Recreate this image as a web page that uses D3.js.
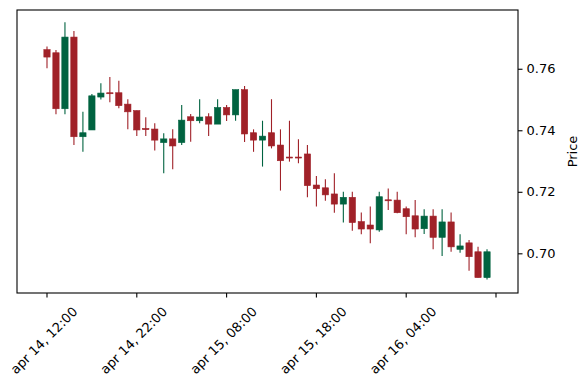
<!DOCTYPE html>
<html>
<head>
<meta charset="utf-8">
<script src="https://cdn.jsdelivr.net/npm/d3@7"></script>
<style>
  body { margin: 0; background: #fff; }
  text { font-family: "DejaVu Sans", sans-serif; fill: #000; }
</style>
</head>
<body>
<div id="chart"></div>
<script>
// hourly candles, apr 14 12:00 -> apr 16 13:00
let opens  = [0.7662,0.7652,0.7470,0.7703,0.7379,0.7401,0.7508,0.7522,0.7522,0.7485,
              0.7464,0.7406,0.7404,0.7360,0.7372,0.7360,0.7444,0.7431,0.7444,0.7420,
              0.7474,0.7450,0.7532,0.7392,0.7368,0.7392,0.7352,0.7313,0.7313,0.7323,
              0.7222,0.7213,0.7193,0.7160,0.7182,0.7103,0.7092,0.7076,0.7174,0.7173,
              0.7145,0.7122,0.7080,0.7121,0.7052,0.7102,0.7013,0.7034,0.7005,0.6921];
let highs  = [0.7672,0.7661,0.7751,0.7723,0.7460,0.7518,0.7553,0.7573,0.7561,0.7501,
              0.7464,0.7442,0.7423,0.7390,0.7403,0.7482,0.7453,0.7501,0.7455,0.7501,
              0.7482,0.7532,0.7544,0.7403,0.7431,0.7501,0.7403,0.7431,0.7371,0.7352,
              0.7251,0.7241,0.7260,0.7200,0.7200,0.7133,0.7152,0.7200,0.7211,0.7200,
              0.7152,0.7173,0.7143,0.7143,0.7143,0.7133,0.7062,0.7043,0.7021,0.7013];
let lows   = [0.7602,0.7452,0.7452,0.7352,0.7330,0.7401,0.7500,0.7491,0.7472,0.7403,
              0.7381,0.7381,0.7334,0.7260,0.7273,0.7352,0.7363,0.7423,0.7381,0.7420,
              0.7430,0.7431,0.7362,0.7330,0.7282,0.7341,0.7204,0.7298,0.7293,0.7182,
              0.7152,0.7171,0.7132,0.7100,0.7073,0.7062,0.7033,0.7070,0.7141,0.7130,
              0.7062,0.7052,0.7063,0.7013,0.6991,0.7005,0.7002,0.6943,0.6921,0.6915];
let closes = [0.7638,0.7470,0.7703,0.7379,0.7392,0.7512,0.7521,0.7519,0.7480,0.7460,
              0.7401,0.7402,0.7368,0.7372,0.7349,0.7433,0.7431,0.7443,0.7420,0.7474,
              0.7450,0.7532,0.7388,0.7368,0.7381,0.7349,0.7301,0.7311,0.7311,0.7220,
              0.7210,0.7190,0.7160,0.7182,0.7100,0.7079,0.7079,0.7184,0.7172,0.7132,
              0.7119,0.7079,0.7121,0.7052,0.7102,0.7021,0.7024,0.6989,0.6921,0.7005];

let xTickIdx    = [0, 10, 20, 30, 40, 50];
let xTickLabels = ["apr 14, 12:00", "apr 14, 22:00", "apr 15, 08:00", "apr 15, 18:00", "apr 16, 04:00", ""];
let yTicks      = [0.70, 0.72, 0.74, 0.76];

var upColor = "#006340", downColor = "#A02128";

var W = 587, H = 389;
var margin = {top: 10, right: 69, bottom: 96, left: 17}
  , width = W - margin.left - margin.right
  , height = H - margin.top - margin.bottom;

var svg = d3.select("#chart").append("svg")
  .attr("width", W)
  .attr("height", H)
  .append("g")
  .attr("transform", "translate(" + margin.left + "," + margin.top + ")");

var xScale = d3.scaleLinear()
  .domain([-3.34, 52.45])
  .range([0, width]);

var yScale = d3.scaleLinear()
  .domain([0.6871, 0.7791])
  .range([height, 0]);

var data = opens.map(function(o, i) {
  return {i: i, o: o, h: highs[i], l: lows[i], c: closes[i]};
});

var step = xScale(1) - xScale(0);
var bodyW = step * 0.7;

// wicks
svg.selectAll(".wick")
  .data(data)
  .enter().append("line")
  .attr("class", "wick")
  .attr("x1", d => xScale(d.i))
  .attr("x2", d => xScale(d.i))
  .attr("y1", d => yScale(d.h))
  .attr("y2", d => yScale(d.l))
  .attr("stroke", d => d.c >= d.o ? upColor : downColor)
  .attr("stroke-width", 1.1);

// bodies
svg.selectAll(".body")
  .data(data)
  .enter().append("rect")
  .attr("class", "body")
  .attr("x", d => xScale(d.i) - bodyW / 2)
  .attr("width", bodyW)
  .attr("y", d => yScale(Math.max(d.o, d.c)))
  .attr("height", d => Math.max(1, Math.abs(yScale(d.o) - yScale(d.c))))
  .attr("fill", d => d.c >= d.o ? upColor : downColor)
  .attr("stroke", d => d.c >= d.o ? upColor : downColor)
  .attr("stroke-width", 0.6);

// frame
svg.append("rect")
  .attr("x", 0).attr("y", 0)
  .attr("width", width).attr("height", height)
  .attr("fill", "none")
  .attr("stroke", "#000")
  .attr("stroke-width", 1.1);

var fs = 13;

// y axis on the right
var yAxis = d3.axisRight(yScale)
  .tickValues(yTicks)
  .tickFormat(d3.format(".2f"))
  .tickSize(4.5)
  .tickPadding(4);

var yg = svg.append("g")
  .attr("transform", "translate(" + width + ",0)")
  .call(yAxis);
yg.select(".domain").remove();
yg.selectAll("text").style("font-size", fs + "px").style("font-family", "DejaVu Sans");
yg.selectAll("line").attr("stroke-width", 1.1);

svg.append("text")
  .attr("transform", "translate(" + (width + 54) + "," + (height / 2) + ") rotate(-90)")
  .attr("text-anchor", "middle")
  .attr("dominant-baseline", "central")
  .style("font-size", fs + "px")
  .text("Price");

// x axis, labels rotated 45 like matplotlib (bbox centred on tick)
var xg = svg.append("g")
  .attr("transform", "translate(0," + height + ")");

xg.selectAll(".xtick")
  .data(xTickIdx)
  .enter().append("line")
  .attr("x1", d => xScale(d)).attr("x2", d => xScale(d))
  .attr("y1", 0).attr("y2", 4.5)
  .attr("stroke", "#000")
  .attr("stroke-width", 1.1);

xg.selectAll(".xlab")
  .data(xTickIdx)
  .enter().append("text")
  .attr("class", "xlab")
  .style("font-size", fs + "px")
  .attr("text-anchor", "middle")
  .attr("dominant-baseline", "central")
  .text((d, i) => xTickLabels[i])
  .each(function(d) {
    var w = this.getComputedTextLength();
    var h = fs * 1.16;
    var half = (w + h) / (2 * Math.SQRT2);
    var cx = xScale(d) - 3, cy = 11 + half;
    d3.select(this)
      .attr("x", cx).attr("y", cy)
      .attr("transform", "rotate(-45," + cx + "," + cy + ")");
  });
</script>
</body>
</html>
